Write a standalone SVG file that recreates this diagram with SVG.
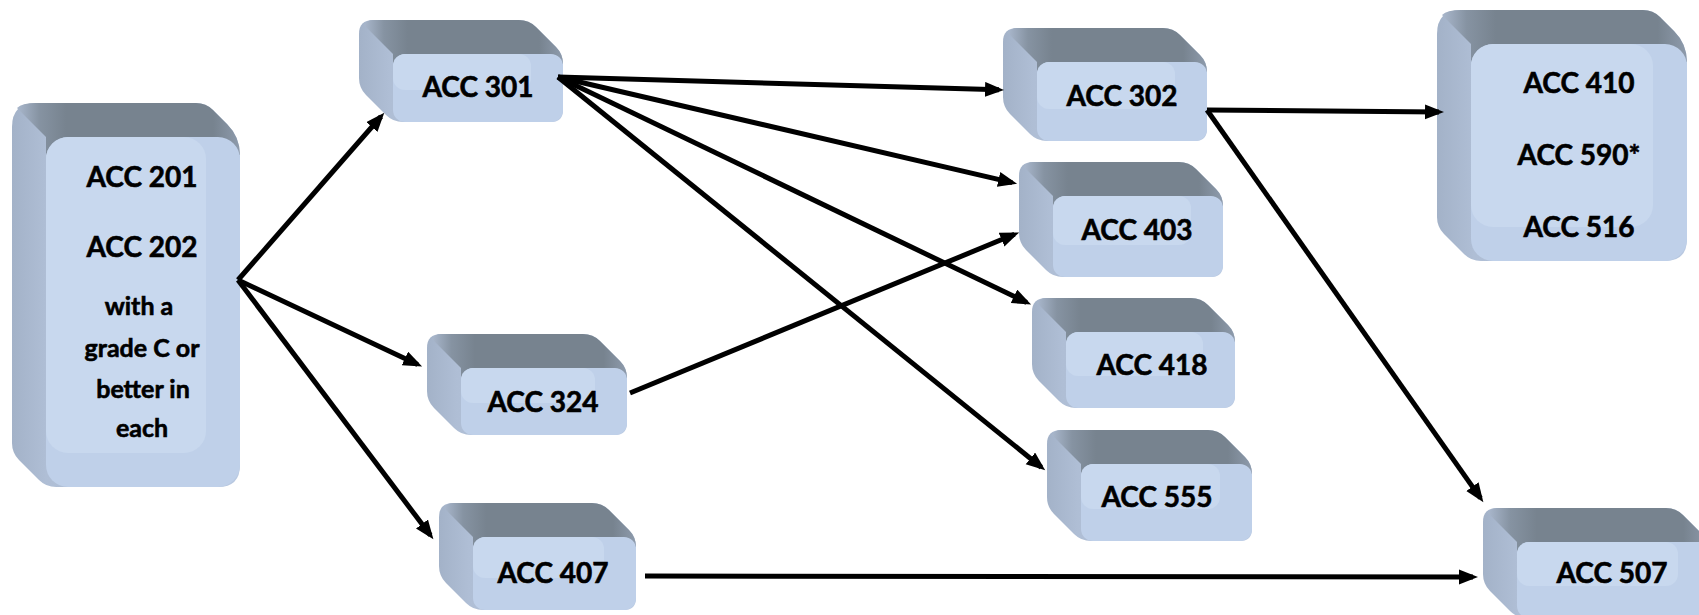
<svg xmlns="http://www.w3.org/2000/svg" width="1699" height="615" viewBox="0 0 1699 615">
<defs>
<style>
.sil{fill:url(#sideG)}
.top{fill:url(#topG)}
.front{fill:#bfd0e9}
.panel{fill:#c8d8ee}
.lbl{font-family:Lato,"Liberation Sans",sans-serif;font-weight:700;font-size:28px;fill:#000;stroke:#000;stroke-width:0.6;text-anchor:middle}
.sm{font-size:25px}
.conn line{stroke:#000;stroke-width:5;fill:none;marker-end:url(#ah)}
</style>
<linearGradient id="topG" x1="0" y1="0" x2="1" y2="0">
<stop offset="0" stop-color="#a9b7cc"/>
<stop offset="0.1" stop-color="#8693a2"/>
<stop offset="0.22" stop-color="#77838f"/>
<stop offset="0.88" stop-color="#77838f"/>
<stop offset="1" stop-color="#8e9bac"/>
</linearGradient>
<linearGradient id="sideG" x1="0" y1="0" x2="1" y2="0">
<stop offset="0" stop-color="#a3b2c8"/>
<stop offset="0.15" stop-color="#afbed5"/>
<stop offset="1" stop-color="#b8c8e0"/>
</linearGradient>
<marker id="ah" markerUnits="userSpaceOnUse" markerWidth="22" markerHeight="16" refX="14" refY="7.5" orient="auto">
<path d="M0,0 L19,7.5 L0,15 Z" fill="#000"/>
</marker>
</defs>
<rect width="1699" height="615" fill="#fff"/>

<g id="n201">
<path class="sil" d="M12,127 Q12,103 36,103 L196,103 Q206,103 213,110 L227,124 Q240,137 240,155 L240,465 Q240,487 218,487 L56,487 Q46,487 39,480 L19,460 Q12,453 12,443 Z"/>
<path class="top" d="M17,108 Q22,103 36,103 L196,103 Q206,103 213,110 L227,124 Q240,137 240,155 L46,155 L46,137 Z"/>
<rect class="front" x="46" y="137" width="194" height="350" rx="22"/>
<rect class="panel" x="46" y="137" width="160" height="316" rx="22"/>
<text class="lbl" x="142" y="187">ACC 201</text>
<text class="lbl" x="142" y="257">ACC 202</text>
<text class="lbl sm" x="139" y="315">with a</text>
<text class="lbl sm" x="142" y="357">grade C or</text>
<text class="lbl sm" x="143" y="398">better in</text>
<text class="lbl sm" x="142" y="437">each</text>
</g>

<g id="n301">
<path class="sil" d="M359,34 Q359,20 373,20 L519,20 Q529,20 536,27 L556,47 Q563,54 563,64 L563,110 Q563,122 551,122 L403,122 Q393,122 386,115 L366,95 Q359,88 359,78 Z"/>
<path class="top" d="M364,25 Q367,20 373,20 L519,20 Q529,20 536,27 L556,47 Q563,54 563,64 L393,64 L393,54 Z"/>
<rect class="front" x="393" y="54" width="170" height="68" rx="12"/>
<rect class="panel" x="393" y="54" width="138" height="36" rx="12"/>
<text class="lbl" x="478" y="97">ACC 301</text>
</g>

<g id="n324">
<path class="sil" d="M427,348 Q427,334 441,334 L583,334 Q593,334 600,341 L620,361 Q627,368 627,378 L627,423 Q627,435 615,435 L471,435 Q461,435 454,428 L434,408 Q427,401 427,391 Z"/>
<path class="top" d="M432,339 Q435,334 441,334 L583,334 Q593,334 600,341 L620,361 Q627,368 627,378 L461,378 L461,368 Z"/>
<rect class="front" x="461" y="368" width="166" height="67" rx="12"/>
<rect class="panel" x="461" y="368" width="134" height="35" rx="12"/>
<text class="lbl" x="543" y="412">ACC 324</text>
</g>

<g id="n407">
<path class="sil" d="M439,517 Q439,503 453,503 L592,503 Q602,503 609,510 L629,530 Q636,537 636,547 L636,598 Q636,610 624,610 L483,610 Q473,610 466,603 L446,583 Q439,576 439,566 Z"/>
<path class="top" d="M444,508 Q447,503 453,503 L592,503 Q602,503 609,510 L629,530 Q636,537 636,547 L473,547 L473,537 Z"/>
<rect class="front" x="473" y="537" width="163" height="73" rx="12"/>
<rect class="panel" x="473" y="537" width="131" height="41" rx="12"/>
<text class="lbl" x="553" y="583">ACC 407</text>
</g>

<g id="n302">
<path class="sil" d="M1003,42 Q1003,28 1017,28 L1163,28 Q1173,28 1180,35 L1200,55 Q1207,62 1207,72 L1207,129 Q1207,141 1195,141 L1047,141 Q1037,141 1030,134 L1010,114 Q1003,107 1003,97 Z"/>
<path class="top" d="M1008,33 Q1011,28 1017,28 L1163,28 Q1173,28 1180,35 L1200,55 Q1207,62 1207,72 L1037,72 L1037,62 Z"/>
<rect class="front" x="1037" y="62" width="170" height="79" rx="12"/>
<rect class="panel" x="1037" y="62" width="138" height="47" rx="12"/>
<text class="lbl" x="1122" y="106">ACC 302</text>
</g>

<g id="n403">
<path class="sil" d="M1019,176 Q1019,162 1033,162 L1179,162 Q1189,162 1196,169 L1216,189 Q1223,196 1223,206 L1223,265 Q1223,277 1211,277 L1063,277 Q1053,277 1046,270 L1026,250 Q1019,243 1019,233 Z"/>
<path class="top" d="M1024,167 Q1027,162 1033,162 L1179,162 Q1189,162 1196,169 L1216,189 Q1223,196 1223,206 L1053,206 L1053,196 Z"/>
<rect class="front" x="1053" y="196" width="170" height="81" rx="12"/>
<rect class="panel" x="1053" y="196" width="138" height="49" rx="12"/>
<text class="lbl" x="1137" y="240">ACC 403</text>
</g>

<g id="n418">
<path class="sil" d="M1032,312 Q1032,298 1046,298 L1191,298 Q1201,298 1208,305 L1228,325 Q1235,332 1235,342 L1235,396 Q1235,408 1223,408 L1076,408 Q1066,408 1059,401 L1039,381 Q1032,374 1032,364 Z"/>
<path class="top" d="M1037,303 Q1040,298 1046,298 L1191,298 Q1201,298 1208,305 L1228,325 Q1235,332 1235,342 L1066,342 L1066,332 Z"/>
<rect class="front" x="1066" y="332" width="169" height="76" rx="12"/>
<rect class="panel" x="1066" y="332" width="137" height="44" rx="12"/>
<text class="lbl" x="1152" y="375">ACC 418</text>
</g>

<g id="n555">
<path class="sil" d="M1047,444 Q1047,430 1061,430 L1208,430 Q1218,430 1225,437 L1245,457 Q1252,464 1252,474 L1252,529 Q1252,541 1240,541 L1091,541 Q1081,541 1074,534 L1054,514 Q1047,507 1047,497 Z"/>
<path class="top" d="M1052,435 Q1055,430 1061,430 L1208,430 Q1218,430 1225,437 L1245,457 Q1252,464 1252,474 L1081,474 L1081,464 Z"/>
<rect class="front" x="1081" y="464" width="171" height="77" rx="12"/>
<rect class="panel" x="1081" y="464" width="139" height="45" rx="12"/>
<text class="lbl" x="1157" y="507">ACC 555</text>
</g>

<g id="n410">
<path class="sil" d="M1437,34 Q1437,10 1461,10 L1643,10 Q1653,10 1660,17 L1674,31 Q1687,44 1687,62 L1687,239 Q1687,261 1665,261 L1481,261 Q1471,261 1464,254 L1444,234 Q1437,227 1437,217 Z"/>
<path class="top" d="M1442,15 Q1447,10 1461,10 L1643,10 Q1653,10 1660,17 L1674,31 Q1687,44 1687,62 L1471,62 L1471,44 Z"/>
<rect class="front" x="1471" y="44" width="216" height="217" rx="22"/>
<rect class="panel" x="1471" y="44" width="182" height="183" rx="22"/>
<text class="lbl" x="1579" y="93">ACC 410</text>
<text class="lbl" x="1579" y="165">ACC 590*</text>
<text class="lbl" x="1579" y="237">ACC 516</text>
</g>

<g id="n507">
<path class="sil" d="M1483,522 Q1483,508 1497,508 L1666,508 Q1676,508 1683,515 L1703,535 Q1710,542 1710,552 L1710,606 Q1710,618 1698,618 L1527,618 Q1517,618 1510,611 L1490,591 Q1483,584 1483,574 Z"/>
<path class="top" d="M1488,513 Q1491,508 1497,508 L1666,508 Q1676,508 1683,515 L1703,535 Q1710,542 1710,552 L1517,552 L1517,542 Z"/>
<rect class="front" x="1517" y="542" width="193" height="76" rx="12"/>
<rect class="panel" x="1517" y="542" width="161" height="44" rx="12"/>
<text class="lbl" x="1612" y="583">ACC 507</text>
</g>

<g id="connectors" class="conn">
<line x1="238" y1="280" x2="381" y2="116.5"/>
<line x1="238" y1="280" x2="417.6" y2="364.4"/>
<line x1="238" y1="280" x2="430.4" y2="535.2"/>
<line x1="558" y1="77" x2="999" y2="89.8"/>
<line x1="558" y1="77" x2="1012.2" y2="182.6"/>
<line x1="558" y1="77" x2="1026.6" y2="302.4"/>
<line x1="558" y1="77" x2="1041.3" y2="467.2"/>
<line x1="630" y1="393" x2="1014.5" y2="234.3"/>
<line x1="1207" y1="110" x2="1439" y2="112"/>
<line x1="1207" y1="110" x2="1480.5" y2="498.1"/>
<line x1="645" y1="576" x2="1473" y2="577"/>
</g>
</svg>
